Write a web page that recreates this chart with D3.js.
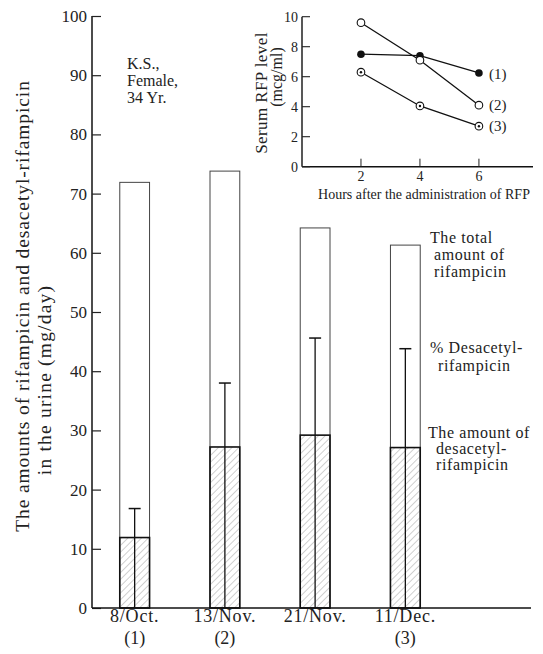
<!DOCTYPE html>
<html lang="en">
  <head>
      <meta charset="utf-8">
      <title>Rifampicin urine excretion</title>
      <script type="text/javascript" src="https://cdn.jsdelivr.net/npm/d3@7"></script>
      <style>
        body { margin: 0; background: #fff; }
        svg text { font-family: "Liberation Serif", "DejaVu Serif", serif; fill: #222; }
      </style>
  </head>
  <body>
      <script type="text/javascript">

      // main chart data (mg/day)
      var dates = ["8/Oct.", "13/Nov.", "21/Nov.", "11/Dec."];
      var dateSub = ["(1)", "(2)", "", "(3)"];
      var totalRFP = [71.9, 73.8, 64.2, 61.3];
      var desacetyl = [11.9, 27.2, 29.2, 27.1];
      var pctDesacetyl = [16.8, 38.0, 45.6, 43.8];
      var mainTicks = [0, 10, 20, 30, 40, 50, 60, 70, 80, 90, 100];

      // inset data (serum level, mcg/ml)
      var hours = [2, 4, 6];
      var serum1 = [7.5, 7.4, 6.25];
      var serum2 = [9.6, 7.1, 4.1];
      var serum3 = [6.3, 4.05, 2.7];
      var insetTicks = [0, 2, 4, 6, 8, 10];

      var w = 543;
      var h = 654;
      var svg = d3.select("body").append("svg").attr("width", w).attr("height", h)
        .attr("font-family", "Liberation Serif, serif");

      var defs = svg.append("defs");
      var pat = defs.append("pattern").attr("id", "hatch").attr("patternUnits", "userSpaceOnUse")
        .attr("width", 4.8).attr("height", 4.8).attr("patternTransform", "rotate(45)");
      pat.append("line").attr("x1", 0).attr("y1", 0).attr("x2", 0).attr("y2", 4.8)
        .attr("stroke", "#888").attr("stroke-width", 0.8);

      // ---- main chart ----
      var x = d3.scaleBand().domain(dates).range([90, 450]).paddingInner(0.67).paddingOuter(0.33);
      var y = d3.scaleLinear().domain([0, 100]).range([608, 16]);

      var g = svg.append("g");

      // total bars
      g.selectAll(".tot").data(totalRFP).enter().append("rect").attr("class", "tot")
        .attr("x", function(d, i){ return x(dates[i]); })
        .attr("y", function(d){ return y(d); })
        .attr("width", x.bandwidth())
        .attr("height", function(d){ return y(0) - y(d); })
        .attr("fill", "#fff").attr("stroke", "#444").attr("stroke-width", 1);

      // desacetyl bars (hatched)
      g.selectAll(".des").data(desacetyl).enter().append("rect").attr("class", "des")
        .attr("x", function(d, i){ return x(dates[i]); })
        .attr("y", function(d){ return y(d); })
        .attr("width", x.bandwidth())
        .attr("height", function(d){ return y(0) - y(d); })
        .attr("fill", "url(#hatch)").attr("stroke", "#111").attr("stroke-width", 1.6);

      // % desacetyl lines with caps
      g.selectAll(".pct").data(pctDesacetyl).enter().append("line").attr("class", "pct")
        .attr("x1", function(d, i){ return x(dates[i]) + x.bandwidth() / 2; })
        .attr("x2", function(d, i){ return x(dates[i]) + x.bandwidth() / 2; })
        .attr("y1", y(0)).attr("y2", function(d){ return y(d); })
        .attr("stroke", "#111").attr("stroke-width", 1.3);
      g.selectAll(".cap").data(pctDesacetyl).enter().append("line").attr("class", "cap")
        .attr("x1", function(d, i){ return x(dates[i]) + x.bandwidth() / 2 - 6; })
        .attr("x2", function(d, i){ return x(dates[i]) + x.bandwidth() / 2 + 6; })
        .attr("y1", function(d){ return y(d); }).attr("y2", function(d){ return y(d); })
        .attr("stroke", "#111").attr("stroke-width", 1.5);

      // y axis
      var yAxis = d3.axisRight(y).tickValues(mainTicks).tickSize(9).tickFormat("");
      var ya = g.append("g").attr("transform", "translate(92,0)").call(yAxis);
      ya.select(".domain").attr("d", "M0," + y(100) + "V" + y(0)).attr("stroke", "#111").attr("stroke-width", 1.5);
      ya.selectAll(".tick line").attr("stroke", "#222").attr("stroke-width", 1.2);
      g.selectAll(".ylab").data(mainTicks).enter().append("text").attr("class", "ylab")
        .attr("x", 87).attr("y", function(d){ return y(d) + 6; })
        .attr("text-anchor", "end").attr("font-size", "17px").text(function(d){ return d; });

      // x axis
      g.append("line").attr("x1", 92).attr("x2", 531).attr("y1", y(0)).attr("y2", y(0))
        .attr("stroke", "#111").attr("stroke-width", 1.6);
      g.selectAll(".xlab").data(dates).enter().append("text").attr("class", "xlab")
        .attr("x", function(d){ return x(d) + x.bandwidth() / 2; })
        .attr("y", 622).attr("text-anchor", "middle").attr("font-size", "18px")
        .attr("letter-spacing", "0.8px").text(function(d){ return d; });
      g.selectAll(".xsub").data(dateSub).enter().append("text").attr("class", "xsub")
        .attr("x", function(d, i){ return x(dates[i]) + x.bandwidth() / 2; })
        .attr("y", 644).attr("text-anchor", "middle").attr("font-size", "18px").text(function(d){ return d; });

      // y title
      g.append("text").attr("transform", "translate(29,306) rotate(-90)")
        .attr("text-anchor", "middle").attr("font-size", "19.5px").attr("letter-spacing", "0.9px")
        .text("The amounts of rifampicin and desacetyl-rifampicin");
      g.append("text").attr("transform", "translate(51,380) rotate(-90)")
        .attr("text-anchor", "middle").attr("font-size", "19.5px").attr("letter-spacing", "1.2px")
        .text("in the urine (mg/day)");

      // subject info
      var info = ["K.S.,", "Female,", "34 Yr."];
      g.selectAll(".info").data(info).enter().append("text").attr("class", "info")
        .attr("x", 127).attr("y", function(d, i){ return 69 + i * 17; })
        .attr("font-size", "16px").text(function(d){ return d; });

      // annotations
      var notes = [
        {t: "The total", x: 430, y: 243},
        {t: "amount of", x: 434, y: 260},
        {t: "rifampicin", x: 434, y: 277},
        {t: "% Desacetyl-", x: 430, y: 353},
        {t: "rifampicin", x: 438, y: 371},
        {t: "The amount of", x: 428, y: 438},
        {t: "desacetyl-", x: 436, y: 454},
        {t: "rifampicin", x: 436, y: 470}
      ];
      g.selectAll(".note").data(notes).enter().append("text").attr("class", "note")
        .attr("x", function(d){ return d.x; }).attr("y", function(d){ return d.y; })
        .attr("font-size", "16px").attr("letter-spacing", "0.6px").text(function(d){ return d.t; });

      // ---- inset ----
      var ix = d3.scaleLinear().domain([0, 7.8]).range([302, 532]);
      var iy = d3.scaleLinear().domain([0, 10]).range([166.7, 16.7]);
      var gi = svg.append("g");

      gi.append("line").attr("x1", 302).attr("x2", 302).attr("y1", iy(10)).attr("y2", iy(0))
        .attr("stroke", "#111").attr("stroke-width", 1.4);
      gi.append("line").attr("x1", 302).attr("x2", 533).attr("y1", iy(0)).attr("y2", iy(0))
        .attr("stroke", "#111").attr("stroke-width", 1.4);
      gi.selectAll(".iyt").data(insetTicks).enter().append("line").attr("class", "iyt")
        .attr("x1", 302).attr("x2", 310).attr("y1", function(d){ return iy(d); }).attr("y2", function(d){ return iy(d); })
        .attr("stroke", "#222").attr("stroke-width", 1.1);
      gi.selectAll(".iyl").data(insetTicks).enter().append("text").attr("class", "iyl")
        .attr("x", 298).attr("y", function(d){ return iy(d) + 5; })
        .attr("text-anchor", "end").attr("font-size", "14px").text(function(d){ return d; });
      gi.selectAll(".ixt").data(hours).enter().append("line").attr("class", "ixt")
        .attr("x1", function(d){ return ix(d); }).attr("x2", function(d){ return ix(d); })
        .attr("y1", iy(0) - 8).attr("y2", iy(0))
        .attr("stroke", "#222").attr("stroke-width", 1);
      gi.selectAll(".ixl").data(hours).enter().append("text").attr("class", "ixl")
        .attr("x", function(d){ return ix(d); }).attr("y", 181)
        .attr("text-anchor", "middle").attr("font-size", "14px").text(function(d){ return d; });
      gi.append("text").attr("x", 424).attr("y", 199).attr("text-anchor", "middle")
        .attr("font-size", "14px").text("Hours after the administration of RFP");
      gi.append("text").attr("transform", "translate(267,93) rotate(-90)")
        .attr("text-anchor", "middle").attr("font-size", "17px").attr("letter-spacing", "0.4px")
        .text("Serum RFP level");
      gi.append("text").attr("transform", "translate(282,77) rotate(-90)")
        .attr("text-anchor", "middle").attr("font-size", "16px")
        .text("(mcg/ml)");

      var line = d3.line().x(function(d, i){ return ix(hours[i]); }).y(function(d){ return iy(d); });
      var series = [serum1, serum2, serum3];
      var names = ["(1)", "(2)", "(3)"];
      gi.selectAll(".sline").data(series).enter().append("path").attr("class", "sline")
        .attr("d", line).attr("fill", "none").attr("stroke", "#111").attr("stroke-width", 1.3);

      // markers
      gi.selectAll(".m1").data(serum1).enter().append("circle").attr("class", "m1")
        .attr("cx", function(d, i){ return ix(hours[i]); }).attr("cy", function(d){ return iy(d); })
        .attr("r", 3.8).attr("fill", "#111");
      gi.selectAll(".m2").data(serum2).enter().append("circle").attr("class", "m2")
        .attr("cx", function(d, i){ return ix(hours[i]); }).attr("cy", function(d){ return iy(d); })
        .attr("r", 3.8).attr("fill", "#fff").attr("stroke", "#111").attr("stroke-width", 1.1);
      gi.selectAll(".m3").data(serum3).enter().append("circle").attr("class", "m3")
        .attr("cx", function(d, i){ return ix(hours[i]); }).attr("cy", function(d){ return iy(d); })
        .attr("r", 3.8).attr("fill", "#fff").attr("stroke", "#111").attr("stroke-width", 1.1);
      gi.selectAll(".m3c").data(serum3).enter().append("circle").attr("class", "m3c")
        .attr("cx", function(d, i){ return ix(hours[i]); }).attr("cy", function(d){ return iy(d); })
        .attr("r", 1.2).attr("fill", "#111");

      gi.selectAll(".sname").data(series).enter().append("text").attr("class", "sname")
        .attr("x", 489).attr("y", function(d, i){ return iy(d[2]) + 5 + (i === 0 ? 1 : 0); })
        .attr("font-size", "15px").text(function(d, i){ return names[i]; });

      </script>
  </body>
</html>
